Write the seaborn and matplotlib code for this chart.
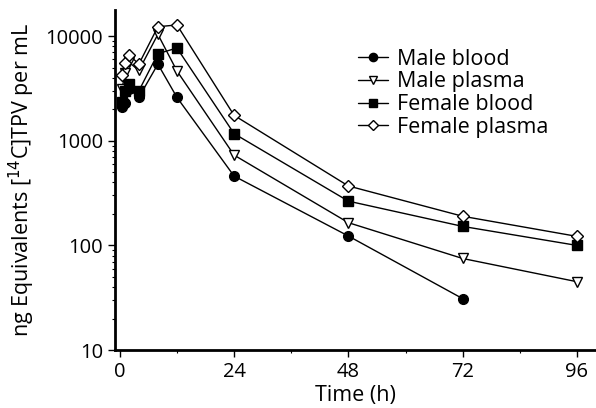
import matplotlib
matplotlib.use("Agg")
import matplotlib.pyplot as plt
import seaborn as sns
import numpy as np
import pandas as pd
from matplotlib.ticker import FixedLocator, LogLocator, NullFormatter

sns.set_style("ticks")
plt.rcParams['font.family'] = ['Open Sans', 'DejaVu Sans']
plt.rcParams['text.color'] = 'black'
plt.rcParams['axes.labelcolor'] = 'black'
plt.rcParams['xtick.color'] = 'black'
plt.rcParams['ytick.color'] = 'black'
plt.rcParams['axes.edgecolor'] = 'black'

time_h = [0.5, 1, 2, 4, 8, 12, 24, 48, 72, 96]
male_blood = [2100, 2300, 3100, 2600, 5400, 2600, 460, 123, 31]
male_plasma = [3100, 4400, 5600, 4700, 10400, 4650, 730, 165, 75, 45]
female_blood = [2350, 3000, 3500, 3000, 6800, 7700, 1170, 265, 152, 100]
female_plasma = [4300, 5500, 6600, 5400, 12300, 12800, 1750, 370, 190, 122]

series_names = ["Male blood", "Male plasma", "Female blood", "Female plasma"]
series_values = [male_blood, male_plasma, female_blood, female_plasma]
markers = ["o", "v", "s", "D"]
faces = ["black", "white", "black", "white"]
msizes = [7, 7.5, 6.5, 6]

fig = plt.figure(figsize=(5.96, 4.08), dpi=100)
ax = fig.add_axes([0.193, 0.142, 0.807, 0.833])

for name, vals, mk, fc, ms in zip(series_names, series_values, markers, faces, msizes):
    df = pd.DataFrame({"t": time_h[:len(vals)], "v": vals})
    sns.lineplot(data=df, x="t", y="v", ax=ax, color="black", lw=1.0,
                 marker=mk, markersize=ms, markerfacecolor=fc,
                 markeredgecolor="black", markeredgewidth=1.0, label=name)

ax.set_yscale("log")
ax.set_xlim(-1, 100)
ax.set_ylim(10, 17700)
ax.set_xticks([0, 24, 48, 72, 96])
ax.xaxis.set_minor_locator(FixedLocator([12, 36, 60, 84]))
ax.set_yticks([10, 100, 1000, 10000])
ax.set_yticklabels(["10", "100", "1000", "10000"])
ax.yaxis.set_minor_locator(LogLocator(base=10, subs=np.arange(2, 10)))
ax.yaxis.set_minor_formatter(NullFormatter())

for s in ["top", "right"]:
    ax.spines[s].set_visible(False)
for s in ["left", "bottom"]:
    ax.spines[s].set_linewidth(2.0)

ax.tick_params(axis="both", which="major", labelsize=14.5, length=5, width=1, direction="out", pad=3.5)
ax.tick_params(axis="both", which="minor", length=2.5, width=0.8, direction="out")

ax.set_xlabel("Time (h)", fontsize=15.5, labelpad=2)
ax.set_ylabel("ng Equivalents [$^{14}$C]TPV per mL", fontsize=15.5, labelpad=6)

leg = ax.legend(loc="upper left", bbox_to_anchor=(0.505, 0.887), frameon=False,
                fontsize=15.5, handlelength=1.4, handletextpad=0.4,
                labelspacing=0.08, borderaxespad=0, borderpad=0, markerscale=0.85)

fig.savefig("out.png", dpi=100)
